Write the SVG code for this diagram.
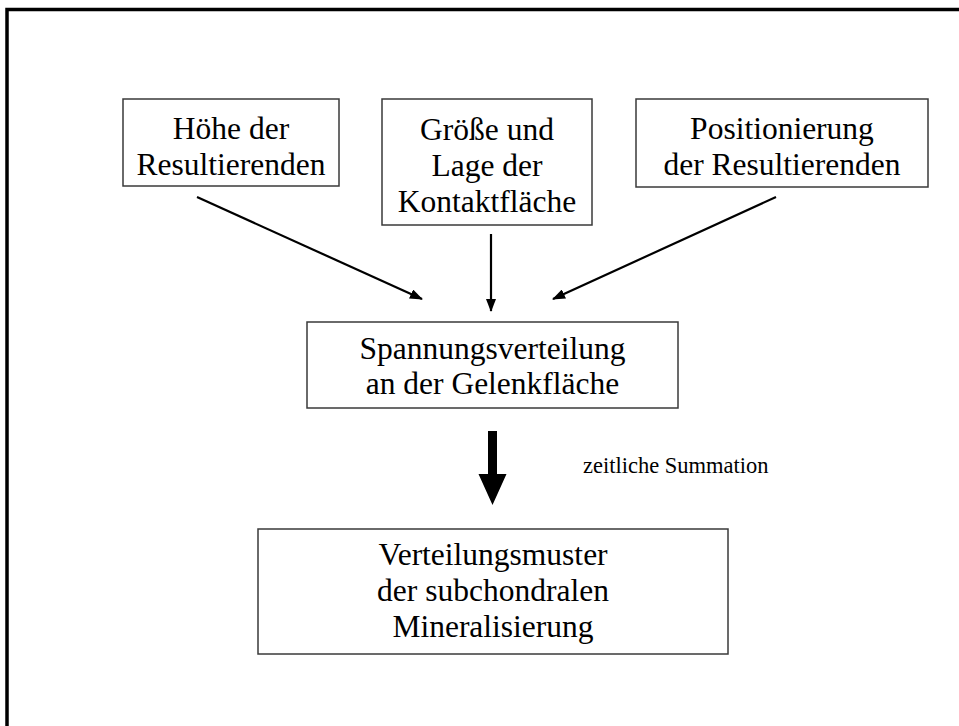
<svg xmlns="http://www.w3.org/2000/svg" width="959" height="726" viewBox="0 0 959 726">
<style>
.box{fill:#fff;stroke:#3a3a3a;stroke-width:1.5}
.t{font-family:"Liberation Serif","Times New Roman",serif;font-size:31.5px;fill:#000;text-anchor:middle}
.lbl{font-family:"Liberation Serif","Times New Roman",serif;font-size:22.5px;fill:#000}
.con{stroke:#000;stroke-width:2.2;fill:none}
</style>
<defs>
<marker id="ah" viewBox="0 0 13 10" refX="12" refY="5" markerWidth="13" markerHeight="10" markerUnits="userSpaceOnUse" orient="auto">
<path d="M0,0 L13,5 L0,10 Z" fill="#000"/>
</marker>
</defs>
<rect width="959" height="726" fill="#fff"/>
<rect x="7" y="9.5" width="1000" height="800" fill="none" stroke="#000" stroke-width="3.5"/>
<g id="n1">
<rect class="box" x="123" y="99" width="216" height="87"/>
<text class="t" x="231" y="139">Höhe der</text>
<text class="t" x="231" y="175">Resultierenden</text>
</g>
<g id="n2">
<rect class="box" x="382" y="99" width="210" height="126"/>
<text class="t" x="487" y="140">Größe und</text>
<text class="t" x="487" y="176">Lage der</text>
<text class="t" x="487" y="212">Kontaktfläche</text>
</g>
<g id="n3">
<rect class="box" x="636" y="99" width="292" height="88"/>
<text class="t" x="782" y="139">Positionierung</text>
<text class="t" x="782" y="175">der Resultierenden</text>
</g>
<g id="n4">
<rect class="box" x="307" y="322" width="371" height="86"/>
<text class="t" x="492.5" y="359">Spannungsverteilung</text>
<text class="t" x="492.5" y="394">an der Gelenkfläche</text>
</g>
<g id="n5">
<rect class="box" x="258" y="529" width="470" height="125"/>
<text class="t" x="493" y="565">Verteilungsmuster</text>
<text class="t" x="493" y="601">der subchondralen</text>
<text class="t" x="493" y="637">Mineralisierung</text>
</g>
<g id="connectors">
<line class="con" x1="197" y1="197" x2="422" y2="299" marker-end="url(#ah)"/>
<line class="con" x1="491" y1="234" x2="491" y2="311" marker-end="url(#ah)"/>
<line class="con" x1="776" y1="197" x2="553" y2="299" marker-end="url(#ah)"/>
<path d="M488,431 L497,431 L497,474 L506.5,474 L492.5,505 L478.5,474 L488,474 Z" fill="#000"/>
<text class="lbl" x="583" y="473">zeitliche Summation</text>
</g>
</svg>
